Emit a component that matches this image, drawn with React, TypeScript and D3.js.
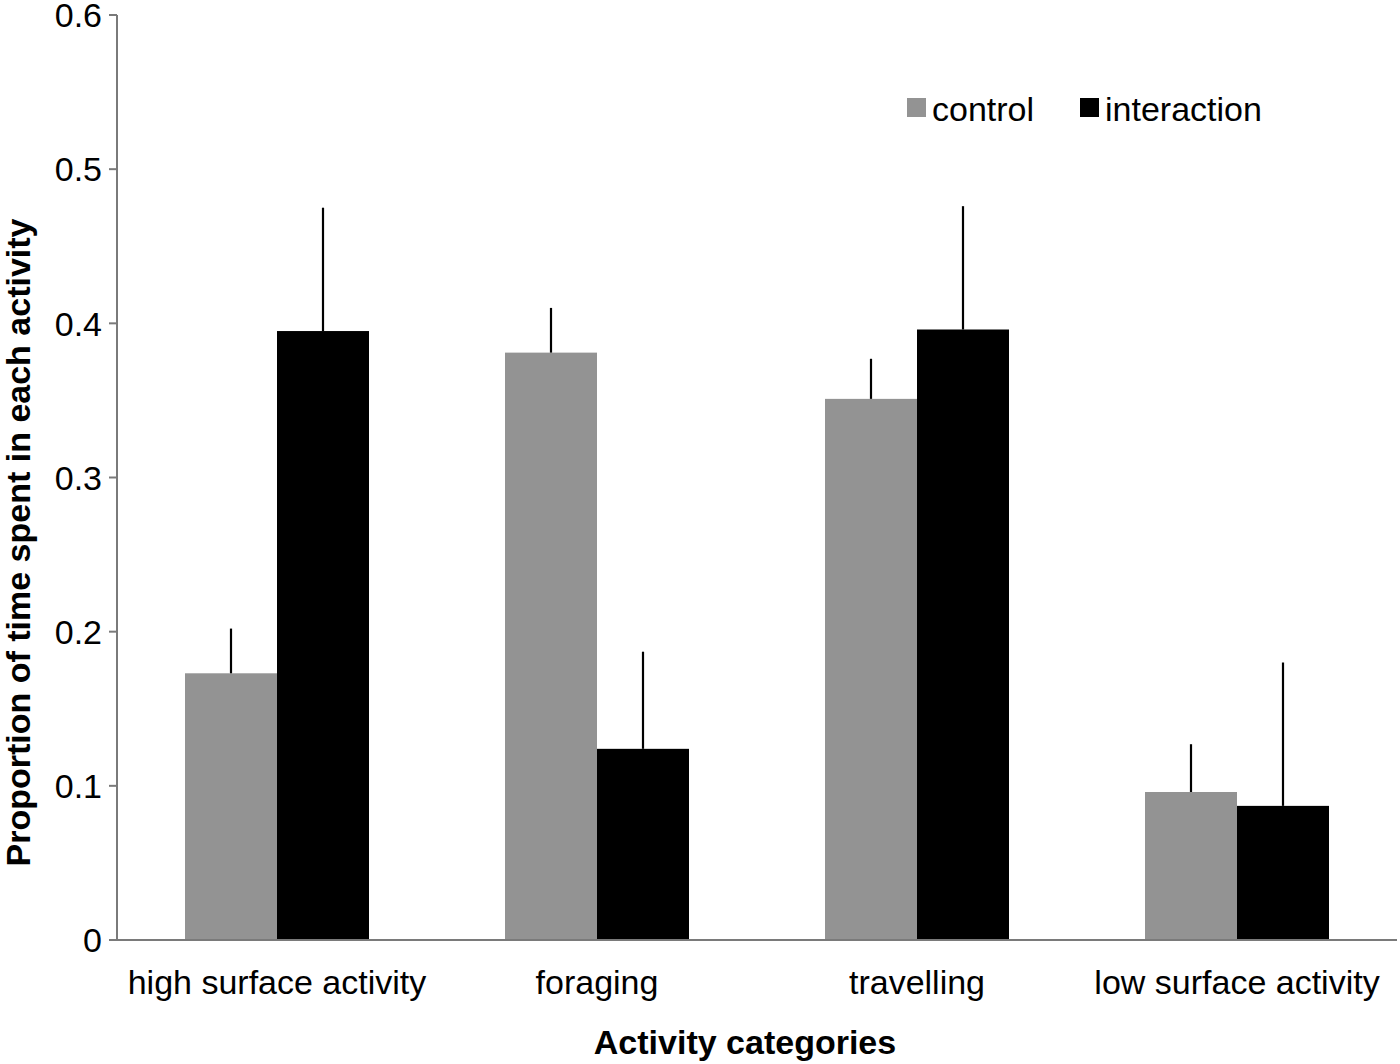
import * as d3 from "d3";

const categories = ["high surface activity", "foraging", "travelling", "low surface activity"];
const groups = ["control", "interaction"];
const controlMean = [0.173, 0.381, 0.351, 0.096];
const controlErr = [0.029, 0.029, 0.026, 0.031];
const interactionMean = [0.395, 0.124, 0.396, 0.087];
const interactionErr = [0.08, 0.063, 0.08, 0.093];
const yTicks = [0, 0.1, 0.2, 0.3, 0.4, 0.5, 0.6];

const colors: Record<string, string> = { control: "#939393", interaction: "#000000" };
const font = "'Liberation Sans', Arial, sans-serif";

export default function App() {
  const width = 1400;
  const height = 1064;
  const margin = { top: 15, right: 3, bottom: 124, left: 117 };

  const x = d3
    .scaleBand()
    .domain(categories)
    .range([margin.left, width - margin.right])
    .paddingInner(0.425)
    .paddingOuter(0.2125);
  const xSub = d3.scaleBand().domain(groups).range([0, x.bandwidth()]);
  const y = d3.scaleLinear().domain([0, 0.6]).range([height - margin.bottom, margin.top]);

  const rows = categories.map((c, i) => ({
    category: c,
    bars: [
      { group: "control", mean: controlMean[i], err: controlErr[i] },
      { group: "interaction", mean: interactionMean[i], err: interactionErr[i] },
    ],
  }));

  const y0 = y(0);
  const axisColor = "#7a7a7a";
  const fs = 34;

  return (
    <svg
      width={width}
      height={height}
      style={{ position: "absolute", left: 0, top: 0, background: "#fff" }}
      fontFamily={font}
    >
      {rows.map((r) => (
        <g key={r.category} transform={`translate(${x(r.category)},0)`}>
          {r.bars.map((b) => (
            <g key={b.group}>
              <rect
                x={xSub(b.group)}
                y={y(b.mean)}
                width={xSub.bandwidth()}
                height={y0 - y(b.mean)}
                fill={colors[b.group]}
              />
              <line
                x1={xSub(b.group)! + xSub.bandwidth() / 2}
                x2={xSub(b.group)! + xSub.bandwidth() / 2}
                y1={y(b.mean)}
                y2={y(b.mean + b.err)}
                stroke="#000"
                strokeWidth={2.2}
              />
            </g>
          ))}
        </g>
      ))}

      {/* axes */}
      <line x1={margin.left} x2={margin.left} y1={margin.top} y2={y0} stroke={axisColor} strokeWidth={2} />
      <line x1={margin.left - 8} x2={width - margin.right} y1={y0} y2={y0} stroke={axisColor} strokeWidth={2} />
      {yTicks.map((t) => (
        <g key={t}>
          <line x1={margin.left - 8} x2={margin.left} y1={y(t)} y2={y(t)} stroke={axisColor} strokeWidth={2} />
          <text x={margin.left - 15} y={y(t)} dy="0.36em" textAnchor="end" fontSize={fs} fill="#000">
            {t === 0 ? "0" : t.toFixed(1)}
          </text>
        </g>
      ))}
      {categories.map((c) => (
        <text key={c} x={x(c)! + x.bandwidth() / 2} y={994} textAnchor="middle" fontSize={fs} fill="#000">
          {c}
        </text>
      ))}

      <text x={745} y={1054} textAnchor="middle" fontSize={fs} fontWeight="bold" fill="#000">
        Activity categories
      </text>
      <text
        transform={`translate(30,${(margin.top + y0) / 2 + 65}) rotate(-90)`}
        textAnchor="middle"
        fontSize={fs}
        fontWeight="bold"
        fill="#000"
      >
        Proportion of time spent in each activity
      </text>

      {/* legend */}
      {groups.map((g, i) => (
        <g key={g} transform={`translate(${[907, 1080][i]},98)`}>
          <rect width={19} height={19} fill={colors[g]} />
          <text x={25} y={23} fontSize={fs} fill="#000">
            {g}
          </text>
        </g>
      ))}
    </svg>
  );
}
